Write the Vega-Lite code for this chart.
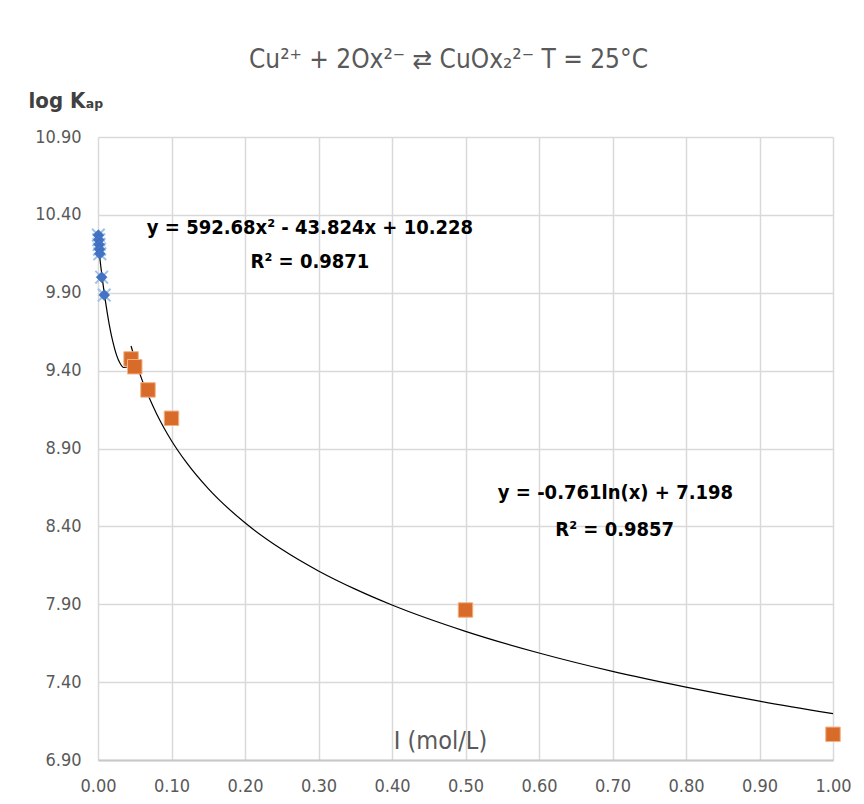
{
  "$schema": "https://vega.github.io/schema/vega-lite/v6.json",
  "width": 735,
  "height": 623,
  "autosize": {"type": "none"},
  "padding": {"left": 98, "top": 137, "right": 31, "bottom": 44},
  "background": "white",
  "config": {
    "view": {"stroke": null},
    "font": "Liberation Sans Narrow, DejaVu Sans Condensed, sans-serif"
  },
  "title": {
    "text": "Cu²⁺ +  2Ox²⁻ ⇄ CuOx₂²⁻   T = 25°C",
    "anchor": "middle",
    "dx": -17,
    "offset": 16,
    "fontSize": 26,
    "fontWeight": "normal",
    "color": "#595959",
    "font": "Liberation Sans Narrow, DejaVu Sans Condensed, sans-serif"
  },
  "datasets": {
    "blue": [
      {"x": 0.0005, "y": 10.27},
      {"x": 0.001, "y": 10.24},
      {"x": 0.0015, "y": 10.21},
      {"x": 0.002, "y": 10.18},
      {"x": 0.0025, "y": 10.15},
      {"x": 0.005, "y": 10.0},
      {"x": 0.0085, "y": 9.885}
    ],
    "orange": [
      {"x": 0.045, "y": 9.475},
      {"x": 0.05, "y": 9.425},
      {"x": 0.068, "y": 9.276},
      {"x": 0.1, "y": 9.094},
      {"x": 0.5, "y": 7.863},
      {"x": 1.0, "y": 7.065}
    ],
    "quad": [
      {"x": 0.0, "y": 10.228},
      {"x": 0.002, "y": 10.143},
      {"x": 0.004, "y": 10.062},
      {"x": 0.006, "y": 9.986},
      {"x": 0.008, "y": 9.915},
      {"x": 0.01, "y": 9.849},
      {"x": 0.015, "y": 9.704},
      {"x": 0.02, "y": 9.589},
      {"x": 0.025, "y": 9.503},
      {"x": 0.03, "y": 9.447},
      {"x": 0.035, "y": 9.420},
      {"x": 0.04, "y": 9.423},
      {"x": 0.045, "y": 9.456}
    ],
    "logfit": [
      {"x": 0.045, "y": 9.558},
      {"x": 0.05, "y": 9.478},
      {"x": 0.06, "y": 9.339},
      {"x": 0.07, "y": 9.222},
      {"x": 0.08, "y": 9.120},
      {"x": 0.09, "y": 9.030},
      {"x": 0.1, "y": 8.950},
      {"x": 0.12, "y": 8.812},
      {"x": 0.15, "y": 8.642},
      {"x": 0.2, "y": 8.423},
      {"x": 0.25, "y": 8.253},
      {"x": 0.3, "y": 8.114},
      {"x": 0.35, "y": 7.997},
      {"x": 0.4, "y": 7.895},
      {"x": 0.5, "y": 7.726},
      {"x": 0.6, "y": 7.587},
      {"x": 0.7, "y": 7.469},
      {"x": 0.8, "y": 7.368},
      {"x": 0.9, "y": 7.278},
      {"x": 1.0, "y": 7.198}
    ],
    "labels": [
      {"x": 0.2884, "y": 10.316, "t": "y = 592.68x² - 43.824x + 10.228"},
      {"x": 0.2884, "y": 10.097, "t": "R² = 0.9871"},
      {"x": 0.704, "y": 8.614, "t": "y = -0.761ln(x) + 7.198"},
      {"x": 0.703, "y": 8.377, "t": "R² = 0.9857"}
    ]
  },
  "encoding": {
    "x": {
      "field": "x",
      "type": "quantitative",
      "scale": {"domain": [0, 1], "nice": false, "zero": false},
      "axis": {
        "title": "I (mol/L)",
        "values": [0, 0.1, 0.2, 0.3, 0.4, 0.5, 0.6, 0.7, 0.8, 0.9, 1.0],
        "format": ".2f",
        "ticks": false,
        "labelPadding": 17,
        "labelFontSize": 18,
        "labelColor": "#595959",
        "labelFlush": false,
        "grid": true,
        "gridColor": "#D9D9D9",
        "gridWidth": 1.5,
        "domain": true,
        "domainColor": "#C8C8C8",
        "domainWidth": 2,
        "titleX": 342,
        "titleY": -20,
        "titleAnchor": null,
        "titleAlign": "center",
        "titleBaseline": "middle",
        "titleFontSize": 25,
        "titleFontWeight": "normal",
        "titleColor": "#595959"
      }
    },
    "y": {
      "field": "y",
      "type": "quantitative",
      "scale": {"domain": [6.9, 10.9], "nice": false, "zero": false},
      "axis": {
        "title": "log Kₐₚ",
        "values": [6.9, 7.4, 7.9, 8.4, 8.9, 9.4, 9.9, 10.4, 10.9],
        "format": ".2f",
        "ticks": false,
        "labelPadding": 17,
        "labelFontSize": 18,
        "labelColor": "#595959",
        "labelFlush": false,
        "grid": true,
        "gridColor": "#D9D9D9",
        "gridWidth": 1.5,
        "domain": false,
        "titleAngle": 0,
        "titleX": -70,
        "titleY": -37,
        "titleAlign": "left",
        "titleBaseline": "middle",
        "titleFontSize": 22,
        "titleFontWeight": "bold",
        "titleColor": "#404040"
      }
    }
  },
  "layer": [
    {
      "data": {"name": "quad"},
      "mark": {"type": "line", "color": "#000000", "strokeWidth": 1.2, "interpolate": "monotone"}
    },
    {
      "data": {"name": "logfit"},
      "mark": {"type": "line", "color": "#000000", "strokeWidth": 1.2, "interpolate": "monotone"}
    },
    {
      "data": {"name": "blue"},
      "mark": {"type": "point", "shape": "M-1,-1L1,1M-1,1L1,-1", "filled": false, "stroke": "#9DC3E6", "strokeWidth": 2, "size": 160, "opacity": 1}
    },
    {
      "data": {"name": "blue"},
      "mark": {"type": "point", "shape": "diamond", "filled": true, "fill": "#4472C4", "stroke": "#3A64B0", "strokeWidth": 0.5, "size": 120, "opacity": 1}
    },
    {
      "data": {"name": "orange"},
      "mark": {"type": "point", "shape": "square", "filled": true, "fill": "#D86B29", "stroke": "#F4B183", "strokeWidth": 1, "size": 210, "opacity": 1}
    },
    {
      "data": {"name": "labels"},
      "mark": {"type": "text", "fontSize": 20, "fontWeight": "bold", "color": "#000000", "align": "center", "baseline": "middle"},
      "encoding": {"text": {"field": "t"}}
    }
  ]
}
